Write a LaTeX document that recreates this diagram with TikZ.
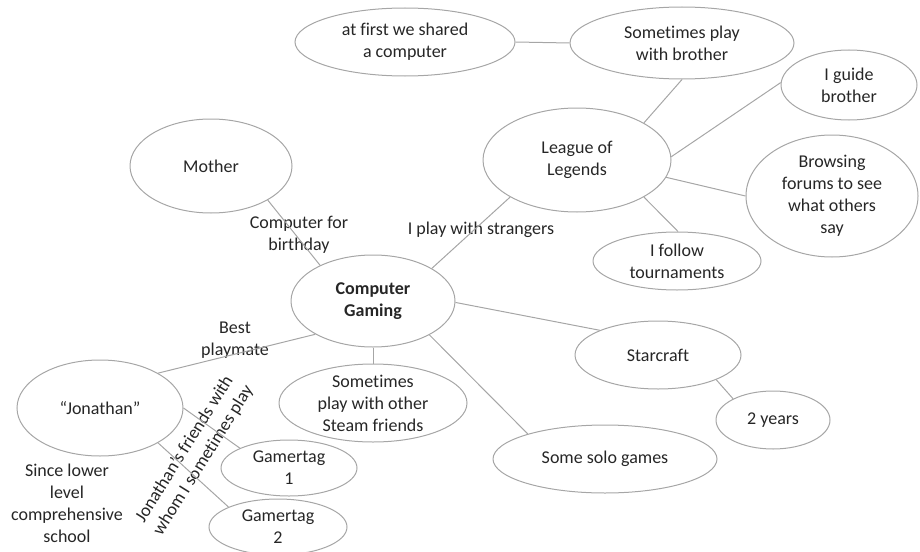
\documentclass[tikz,border=0pt]{standalone}
\usepackage{fontspec}
\setmainfont{Carlito}[RawFeature={-liga;-clig;-dlig}]
\usetikzlibrary{shapes.geometric}
\definecolor{rim}{RGB}{166,166,166}
\definecolor{ink}{RGB}{38,38,38}

\begin{document}
\begin{tikzpicture}[
  x=1pt, y=-1pt,
  bubble/.style={draw=rim, line width=1pt, ellipse, inner sep=-4pt, align=center, text=ink, font=\fontsize{18}{22}\selectfont},
  hub/.style={bubble, font=\fontsize{18}{22}\selectfont\bfseries},
  note/.style={align=center, text=ink, inner sep=0pt, font=\fontsize{18}{22}\selectfont},
  link/.style={draw=rim, line width=1pt}
]
  \useasboundingbox (0,0) rectangle (920,551);

  % centre and first ring
  \node[hub, minimum width=164pt, minimum height=92pt] (cg) at (373,301) {Computer\\Gaming};
  \node[bubble, minimum width=162pt, minimum height=94pt] (mother) at (211,166) {Mother};
  \node[bubble, minimum width=188pt, minimum height=104pt] (lol) at (577,160) {League of\\Legends};
  \node[bubble, minimum width=166pt, minimum height=68pt] (star) at (658,355) {Starcraft};
  \node[bubble, minimum width=224pt, minimum height=68pt] (solo) at (605,459) {Some solo games};
  \node[bubble, minimum width=188pt, minimum height=78pt] (steam) at (373,403) {Sometimes\\play with other\\Steam friends};
  \node[bubble, minimum width=166pt, minimum height=96pt] (jon) at (100,408) {“Jonathan”};

  % League of Legends branch
  \node[bubble, minimum width=224pt, minimum height=72pt] (brother) at (682,43) {Sometimes play\\with brother};
  \node[bubble, minimum width=220pt, minimum height=68pt] (first) at (405,42) {at first we shared\\a computer};
  \node[bubble, minimum width=136pt, minimum height=70pt] (guide) at (849,85) {I guide\\brother};
  \node[bubble, minimum width=172pt, minimum height=122pt] (browse) at (832,196) {Browsing\\forums to see\\what others\\say};
  \node[bubble, minimum width=168pt, minimum height=58pt] (tourn) at (677,261) {I follow\\tournaments};

  % Starcraft and Jonathan branches
  \node[bubble, minimum width=114pt, minimum height=58pt] (yrs) at (773,420) {2 years};
  \node[bubble, minimum width=136pt, minimum height=56pt] (gt1) at (289,468) {Gamertag\\1};
  \node[bubble, minimum width=138pt, minimum height=56pt] (gt2) at (278,527) {Gamertag\\2};

  % edge labels
  \node[note] (lblbirthday) at (299,235) {Computer for\\birthday};
  \node[note] (lblstrangers) at (481,230) {I play with strangers};
  \node[note] (lblplaymate) at (235,340) {Best\\playmate};
  \node[note] (lblschool) at (67,503) {Since lower\\level\\comprehensive\\school};
  \node[note, rotate=58] (lblfriends) at (194,455) {Jonathan’s friends with\\whom I sometimes play};

  % connectors
  \draw[link] (mother.-31) -- (cg.146);
  \draw[link] (cg.29) -- (lol.209);
  \draw[link] (lol.29) -- (brother.270);
  \draw[link] (first.east) -- (brother.west);
  \draw[link] (lol.2) -- (guide.178);
  \draw[link] (lol.-11) -- (browse.180);
  \draw[link] (lol.-29) -- (tourn.88);
  \draw[link] (cg.-1) -- (star.157);
  \draw[link] (star.-23) -- (yrs.152);
  \draw[link] (cg.-31) -- (solo.162);
  \draw[link] (cg.south) -- (steam.north);
  \draw[link] (cg.210) -- (jon.31);
  \draw[link] (jon.east) -- (gt1.158);
  \draw[link] (jon.-31) -- (gt2.158);
\end{tikzpicture}
\end{document}
